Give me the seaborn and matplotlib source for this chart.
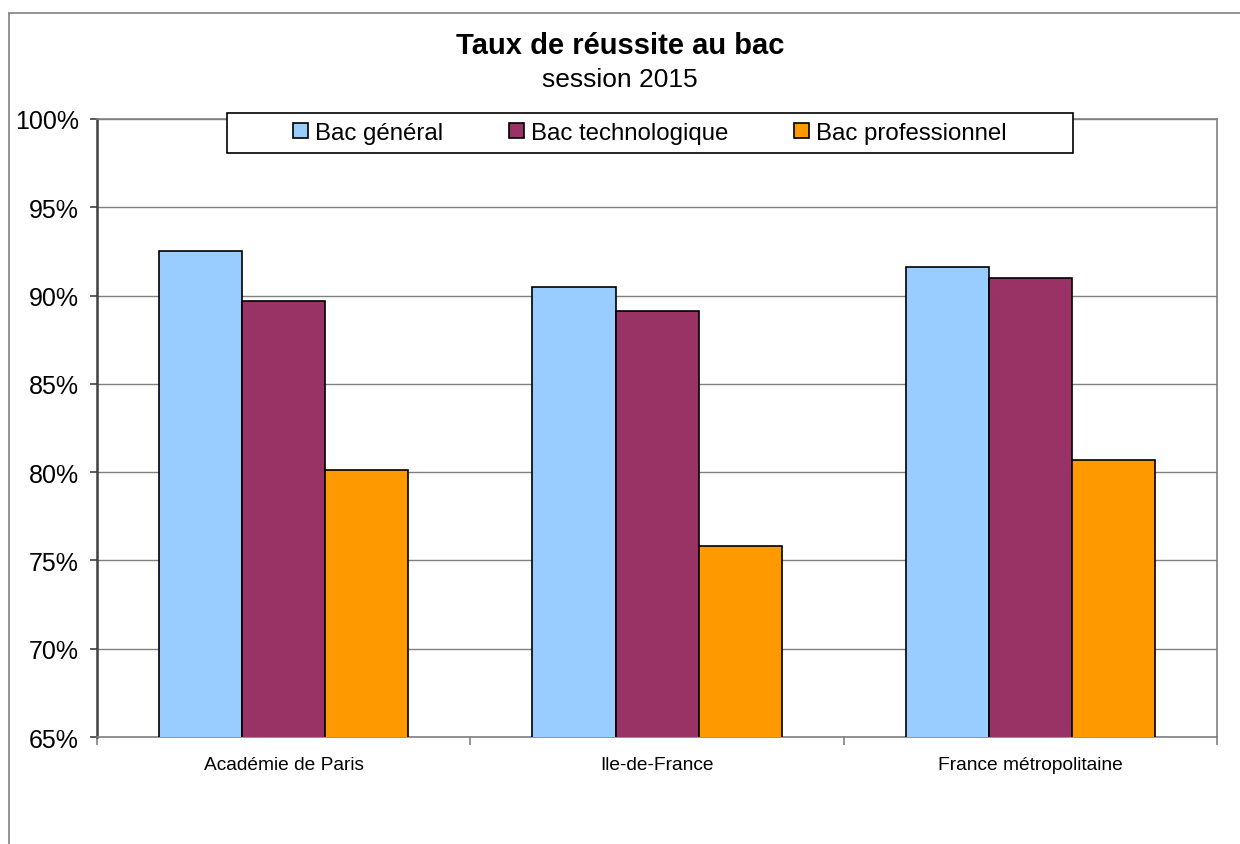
import pandas as pd
import matplotlib.pyplot as plt
import seaborn as sns
from matplotlib.patches import Rectangle
from matplotlib.lines import Line2D
from matplotlib.ticker import FuncFormatter

# Données (taux de réussite, en %)
territoires = ["Académie de Paris", "Ile-de-France", "France métropolitaine"]
series = ["Bac général", "Bac technologique", "Bac professionnel"]
bac_general = [92.5, 90.5, 91.6]
bac_techno = [89.7, 89.1, 91.0]
bac_pro = [80.1, 75.8, 80.7]
couleurs = ["#99CCFF", "#993366", "#FF9900"]

df = pd.DataFrame({
    "Territoire": territoires * 3,
    "Série": [series[0]] * 3 + [series[1]] * 3 + [series[2]] * 3,
    "Taux": bac_general + bac_techno + bac_pro,
})

sns.set_style("white")
plt.rcParams["font.family"] = ["Liberation Sans", "DejaVu Sans"]
plt.rcParams["text.color"] = "black"
plt.rcParams["xtick.color"] = "black"
plt.rcParams["ytick.color"] = "black"

fig = plt.figure(figsize=(12.4, 8.45), dpi=100)
ax = fig.add_axes([0.0782, 0.1266, 0.9033, 0.7314])

sns.barplot(data=df, x="Territoire", y="Taux", hue="Série", palette=couleurs,
            saturation=1, width=0.667, edgecolor="black", linewidth=1.2, ax=ax,
            legend=False, zorder=3)

ax.set_ylim(65, 100)
ax.set_yticks(range(65, 101, 5))
ax.yaxis.set_major_formatter(FuncFormatter(lambda v, p: f"{v:.0f}%"))
ax.grid(axis="y", color="#808080", linewidth=1, zorder=0)
ax.set_xlabel("")
ax.set_ylabel("")

for s in ["top", "right", "bottom"]:
    ax.spines[s].set_color("#808080")
    ax.spines[s].set_linewidth(1.2)
ax.spines["left"].set_color("#404040")
ax.spines["left"].set_linewidth(1.8)

ax.tick_params(axis="y", left=True, length=5, width=1.2, color="#404040",
               labelsize=18, pad=8)
ax.tick_params(axis="x", which="major", length=0, labelsize=13.8, pad=14)
ax.set_xticks([-0.5, 0.5, 1.5, 2.5], minor=True)
ax.tick_params(axis="x", which="minor", bottom=True, length=6, width=1.2,
               color="#808080")

# cadre de la légende
ax.add_patch(Rectangle((0.116, 0.945), 0.755, 0.0647, transform=ax.transAxes,
                       facecolor="white", edgecolor="black", linewidth=1.2,
                       clip_on=False, zorder=5))
handles = [Rectangle((0, 0), 1, 1, facecolor=c, edgecolor="black", linewidth=1.2)
           for c in couleurs]
leg = ax.legend(handles, series, loc="center", bbox_to_anchor=(0.4937, 0.9773),
                ncol=3, frameon=False, fontsize=17.3, handlelength=0.6,
                handleheight=0.6, handletextpad=0.3, columnspacing=2.75)
leg.set_zorder(6)

fig.text(0.5, 0.9456, "Taux de réussite au bac", ha="center", va="center",
         fontsize=21, fontweight="bold")
fig.text(0.5, 0.9053, "session 2015", ha="center", va="center", fontsize=19)

# cadre extérieur (haut et gauche)
fig.add_artist(Line2D([0.00726, 1.0], [0.9834, 0.9834], color="#808080", linewidth=1.2))
fig.add_artist(Line2D([0.00726, 0.00726], [0.0, 0.9834], color="#808080", linewidth=1.2))

fig.savefig("out.png", dpi=100)
